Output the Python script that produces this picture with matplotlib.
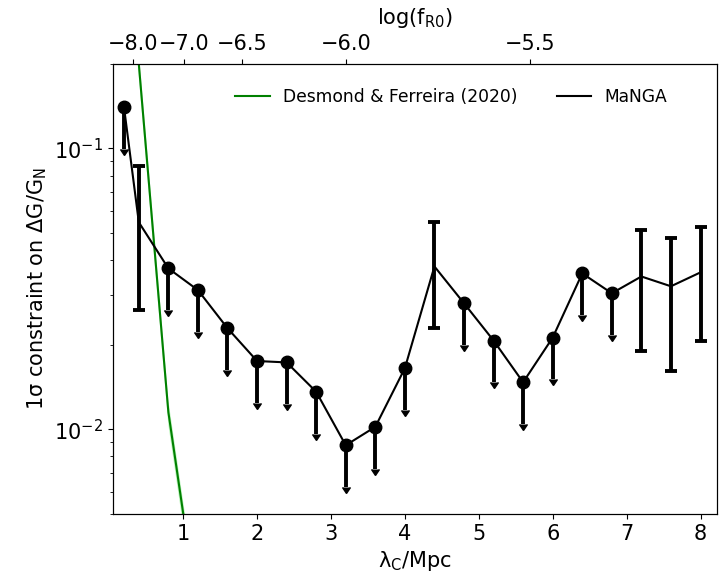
import numpy as np
import matplotlib
matplotlib.use("Agg")
import matplotlib.pyplot as plt

# MaNGA constraints on Delta G / G_N as a function of Compton wavelength
lam = [0.2, 0.4, 0.8, 1.2, 1.6, 2.0, 2.4, 2.8, 3.2, 3.6, 4.0,
       4.4, 4.8, 5.2, 5.6, 6.0, 6.4, 6.8, 7.2, 7.6, 8.0]
dg = [0.140, 0.0546, 0.0374, 0.0313, 0.0229, 0.0175, 0.0173, 0.0136, 0.00877, 0.0102, 0.0165,
      0.0380, 0.0281, 0.0207, 0.0147, 0.0212, 0.0359, 0.0305, 0.0350, 0.0323, 0.0362]
# True -> upper limit only, False -> detection with 1 sigma range
is_limit = [True, False, True, True, True, True, True, True, True, True, True,
            False, True, True, True, True, True, True, False, False, False]
err_hi = [0, 0.0863, 0, 0, 0, 0, 0, 0, 0, 0, 0,
          0.0546, 0, 0, 0, 0, 0, 0, 0.0511, 0.0478, 0.0527]
err_lo = [0, 0.0265, 0, 0, 0, 0, 0, 0, 0, 0, 0,
          0.0229, 0, 0, 0, 0, 0, 0, 0.0190, 0.0161, 0.0207]

# Desmond & Ferreira (2020)
df_lam = [0.2, 0.4, 0.8, 1.2]
df_dg = [0.83, 0.20, 0.0115, 0.0022]

# top axis: log(f_R0)
fr0_ticks = [-8.0, -7.0, -6.5, -6.0, -5.5]

lam = np.array(lam)
dg = np.array(dg)
is_limit = np.array(is_limit)
err_hi = np.array(err_hi)
err_lo = np.array(err_lo)

fig = plt.figure(figsize=(7.24, 5.76), dpi=100)
ax = fig.add_axes([0.156, 0.108, 0.834, 0.781])

ax.fill_between(df_lam, np.array(df_dg) * 0.9, np.array(df_dg) * 1.1,
                color='lightgreen', alpha=0.6, lw=0)
ax.plot(df_lam, df_dg, color='green', lw=1.5, label='Desmond & Ferreira (2020)')

ax.plot(lam, dg, color='k', lw=1.5, label='MaNGA')

drop = 0.29
lim = is_limit
ax.errorbar(lam[lim], dg[lim], yerr=drop * dg[lim], uplims=True, fmt='o',
            color='k', ms=9, elinewidth=2.8, capsize=3)
det = ~is_limit
ax.errorbar(lam[det], dg[det], yerr=[dg[det] - err_lo[det], err_hi[det] - dg[det]],
            fmt='none', ecolor='k', elinewidth=2.8, capsize=4, capthick=2.8)

ax.set_yscale('log')
ax.set_xlim(0.05, 8.22)
ax.set_ylim(0.005, 0.2)
ax.set_xticks([1, 2, 3, 4, 5, 6, 7, 8])
ax.tick_params(labelsize=15)
ax.set_xlabel('λ$_{\\rm C}$/Mpc', fontsize=15)
ax.set_ylabel('1σ constraint on ΔG/G$_{\\rm N}$', fontsize=15)

ax.legend(loc='upper right', bbox_to_anchor=(0.944, 0.98), ncol=2, frameon=False,
          fontsize=12.3, columnspacing=2.3, handlelength=2.0)

ax2 = ax.twiny()
ax2.set_xlim(ax.get_xlim())
ax2.set_xticks([32 * np.sqrt(10 ** (f + 4)) for f in fr0_ticks])
ax2.set_xticklabels(['\u2212%.1f' % abs(f) for f in fr0_ticks])
ax2.tick_params(labelsize=15)
ax2.set_xlabel('log(f$_{\\rm R0}$)', fontsize=15, labelpad=7)

fig.savefig('out.png', dpi=100)
